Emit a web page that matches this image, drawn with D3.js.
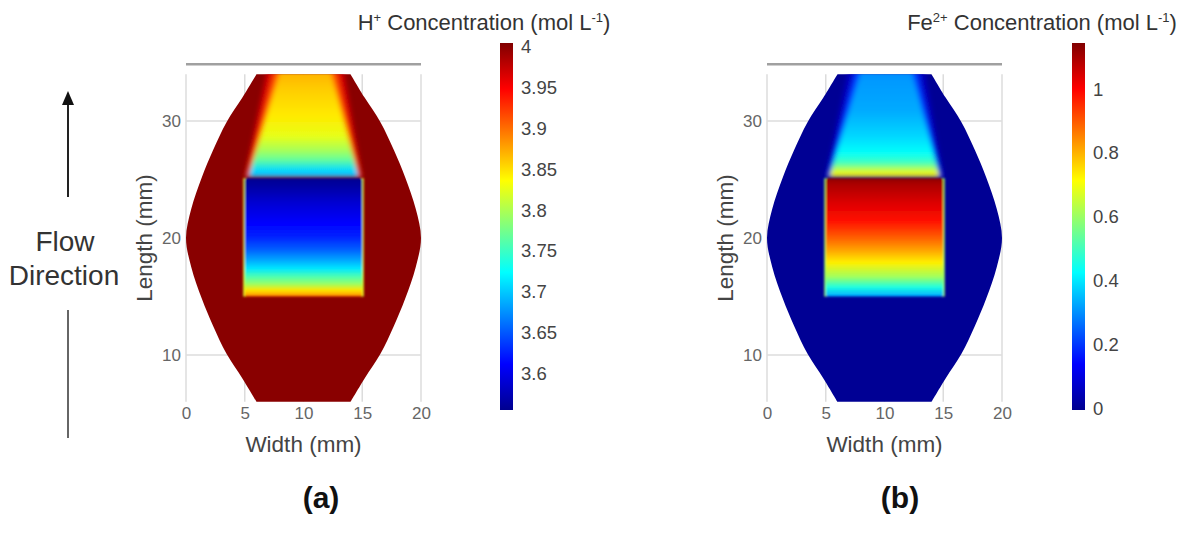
<!DOCTYPE html>
<html>
<head>
<meta charset="utf-8">
<script src="https://cdn.jsdelivr.net/npm/d3@7"></script>
<style>
  body { margin: 0; background: #fff; }
  svg { display: block; font-family: "Liberation Sans", Arial, sans-serif; }
</style>
</head>
<body>
<svg id="chart" width="1193" height="533"></svg>
<script>
// jet colour map
var jetPositions = [0, 0.125, 0.375, 0.625, 0.875, 1];
var jetColors = ['#00008f', '#0000ff', '#00ffff', '#ffff00', '#ff0000', '#800000'];

var widthTicks = [0, 5, 10, 15, 20];
var lengthTicks = [10, 20, 30];

// left half of the flow cell, [width, length] in mm
var cellOutline = [[6, 34], [4.8, 32], [3.45, 29.9], [2.3, 27.5], [1.35, 25.2], [0.45, 22.5], [0, 20],
                   [0.45, 17.5], [1.35, 14.8], [2.3, 12.5], [3.45, 10.1], [4.8, 8], [6, 6]];
var electrode = {x0: 5, x1: 15, y0: 15, y1: 25.1};

// plume above the electrode: width span at bottom and top
var plumeLengths = [25.2, 34.3];
var plumeOuter = [[5.0, 15.0], [6.9, 13.4]];
var plumeMiddle = [[5.1, 14.9], [7.5, 12.8]];
var plumeCore = [[5.3, 14.7], [8.0, 12.3]];

// H+ field, [length, value]
var hBackground = 4.0;
var hPlumeBands = [3.965, 3.915];
var hPlumeProfile = [[34, 3.868], [32.4, 3.856], [30.4, 3.845], [28.7, 3.826], [27.5, 3.798],
                     [26.7, 3.769], [25.8, 3.708], [25.2, 3.69]];
var hRectProfile = [[25.1, 3.557], [24.5, 3.565], [23, 3.59], [21.25, 3.612], [20.1, 3.627], [19, 3.654],
                    [18.1, 3.686], [17.4, 3.713], [16.7, 3.758], [16.1, 3.79], [15.55, 3.847], [15.1, 3.88], [15, 3.92]];
var hEdgeValue = 3.82;
var hColorTicks = [3.6, 3.65, 3.7, 3.75, 3.8, 3.85, 3.9, 3.95, 4];
var hColorDomain = [3.556, 4.004];

// Fe2+ field, [length, value]
var feBackground = 0;
var fePlumeBands = [0.06, 0.2];
var fePlumeProfile = [[34, 0.30], [33.5, 0.31], [30.9, 0.33], [28.7, 0.38], [27.3, 0.43],
                      [26.4, 0.5], [25.7, 0.67], [25.2, 0.75]];
var feRectProfile = [[25.1, 1.13], [24.7, 1.10], [23, 1.04], [21.5, 0.985], [20.1, 0.90], [19, 0.82],
                     [17.9, 0.73], [16.7, 0.61], [15.8, 0.46], [15.1, 0.34], [15, 0.3]];
var feEdgeValue = 0.6;
var feColorTicks = [0, 0.2, 0.4, 0.6, 0.8, 1];
var feColorDomain = [-0.006, 1.145];

var jet = d3.scaleLinear().domain(jetPositions).range(jetColors).interpolate(d3.interpolateRgb);

var svg = d3.select('#chart');
var defs = svg.append('defs');

function blurFilter(id, sd) {
  defs.append('filter').attr('id', id)
      .attr('x', '-20%').attr('y', '-20%').attr('width', '140%').attr('height', '140%')
    .append('feGaussianBlur').attr('stdDeviation', sd);
}
blurFilter('plumeBlur', 2.4);
blurFilter('rectBlur', 0.9);

function addProfileGradient(id, profile, y, color) {
  var top = y(profile[0][0]),
      bottom = y(profile[profile.length - 1][0]);
  var grad = defs.append('linearGradient').attr('id', id)
    .attr('gradientUnits', 'userSpaceOnUse')
    .attr('x1', 0).attr('x2', 0).attr('y1', top).attr('y2', bottom);
  grad.selectAll('stop').data(profile).enter().append('stop')
    .attr('offset', function(d) { return (y(d[0]) - top) / (bottom - top); })
    .attr('stop-color', function(d) { return color(d[1]); });
}

function styleAxis(sel, size, fill) {
  sel.select('.domain').remove();
  sel.attr('font-family', null).attr('font-size', null);
  sel.selectAll('text').attr('font-size', size).attr('fill', fill);
}

function drawPanel(p) {
  var x = d3.scaleLinear().domain([0, 20]).range([p.left, p.left + 235]);
  var y = d3.scaleLinear().domain([10, 30]).range([355, 121]);
  var t = d3.scaleLinear().domain(p.colorDomain).range([0, 1]).clamp(true);
  var color = function(v) { return jet(t(v)); };
  var g = svg.append('g');

  // grid behind the cell
  g.selectAll('.vgrid').data(widthTicks).enter().append('line')
    .attr('x1', x).attr('x2', x).attr('y1', y(6)).attr('y2', y(34))
    .attr('stroke', '#dcdcdc').attr('stroke-width', 1.5);
  g.selectAll('.hgrid').data(lengthTicks).enter().append('line')
    .attr('x1', x(0)).attr('x2', x(20))
    .attr('y1', y).attr('y2', y)
    .attr('stroke', '#dcdcdc').attr('stroke-width', 1.5);
  g.append('line')
    .attr('x1', x(0)).attr('x2', x(20)).attr('y1', y(34.85)).attr('y2', y(34.85))
    .attr('stroke', '#a0a0a0').attr('stroke-width', 2.5);

  // cell outline
  var curve = d3.line().x(function(d) { return x(d[0]); }).y(function(d) { return y(d[1]); })
    .curve(d3.curveCatmullRom);
  var right = cellOutline.slice().reverse().map(function(d) { return [20 - d[0], d[1]]; });
  var outlinePath = curve(cellOutline) + 'L' + curve(right).slice(1) + 'Z';
  defs.append('clipPath').attr('id', p.id + '-clip').append('path').attr('d', outlinePath);
  g.append('path').attr('d', outlinePath).attr('fill', color(p.background));

  var field = g.append('g').attr('clip-path', 'url(#' + p.id + '-clip)');

  // plume
  var poly = d3.line().x(function(d) { return x(d[0]); }).y(function(d) { return y(d[1]); });
  function trapezoid(span) {
    return poly([[span[0][0], plumeLengths[0]], [span[0][1], plumeLengths[0]],
                 [span[1][1], plumeLengths[1]], [span[1][0], plumeLengths[1]]]) + 'Z';
  }
  addProfileGradient(p.id + '-plume', p.plumeProfile, y, color);
  var plume = field.append('g').attr('filter', 'url(#plumeBlur)');
  plume.append('path').attr('d', trapezoid(plumeOuter)).attr('fill', color(p.plumeBands[0]));
  plume.append('path').attr('d', trapezoid(plumeMiddle)).attr('fill', color(p.plumeBands[1]));
  plume.append('path').attr('d', trapezoid(plumeCore)).attr('fill', 'url(#' + p.id + '-plume)');

  // electrode region
  addProfileGradient(p.id + '-rect', p.rectProfile, y, color);
  var rectG = field.append('g').attr('filter', 'url(#rectBlur)');
  rectG.selectAll('.edge').data([electrode.x0, electrode.x1]).enter().append('line')
    .attr('x1', x).attr('x2', x).attr('y1', y(electrode.y1)).attr('y2', y(electrode.y0))
    .attr('stroke', color(p.edgeValue)).attr('stroke-width', 3);
  rectG.append('rect')
    .attr('x', x(electrode.x0)).attr('width', x(electrode.x1) - x(electrode.x0))
    .attr('y', y(electrode.y1)).attr('height', y(electrode.y0) - y(electrode.y1))
    .attr('rx', 2)
    .attr('fill', 'url(#' + p.id + '-rect)');

  // axes
  g.append('g').attr('transform', 'translate(0,403)')
    .call(d3.axisBottom(x).tickValues(widthTicks).tickSize(0).tickPadding(4))
    .call(styleAxis, 17, '#666');
  g.append('g').attr('transform', 'translate(' + (x(0) - 3) + ',0)')
    .call(d3.axisLeft(y).tickValues(lengthTicks).tickSize(0).tickPadding(2))
    .call(styleAxis, 17, '#666');

  g.append('text').attr('x', x(10)).attr('y', 452).attr('text-anchor', 'middle')
    .attr('font-size', 22.5).attr('fill', '#444').text('Width (mm)');
  g.append('text').attr('transform', 'translate(' + (x(0) - 34) + ',' + y(20) + ') rotate(-90)')
    .attr('text-anchor', 'middle').attr('font-size', 22.5).attr('fill', '#444').text('Length (mm)');

  // colour bar
  var cy = d3.scaleLinear().domain(p.colorDomain).range([410, 43]);
  var barGrad = defs.append('linearGradient').attr('id', p.id + '-bar')
    .attr('x1', 0).attr('x2', 0).attr('y1', 1).attr('y2', 0);
  barGrad.selectAll('stop').data(jetPositions).enter().append('stop')
    .attr('offset', function(d) { return d; })
    .attr('stop-color', function(d) { return jet(d); });
  g.append('rect').attr('x', p.barX).attr('width', 13)
    .attr('y', cy(p.colorDomain[1])).attr('height', cy(p.colorDomain[0]) - cy(p.colorDomain[1]))
    .attr('fill', 'url(#' + p.id + '-bar)');
  g.append('g').attr('transform', 'translate(' + (p.barX + 13) + ',0)')
    .call(d3.axisRight(cy).tickValues(p.colorTicks).tickSize(0).tickPadding(8).tickFormat(d3.format('~g')))
    .call(styleAxis, 18.5, '#444');

  var title = g.append('text').attr('x', p.titleX).attr('y', 30).attr('text-anchor', 'middle')
    .attr('font-size', 22).attr('fill', '#333');
  title.append('tspan').text(p.ion);
  title.append('tspan').attr('font-size', 13).attr('dy', -8).text(p.charge);
  title.append('tspan').attr('dy', 8).text(' Concentration (mol L');
  title.append('tspan').attr('font-size', 13).attr('dy', -8).text('-1');
  title.append('tspan').attr('dy', 8).text(')');

  g.append('text').attr('x', p.labelX).attr('y', 508).attr('text-anchor', 'middle')
    .attr('font-size', 30).attr('font-weight', 'bold').attr('fill', '#111').text(p.label);
}

drawPanel({id: 'h', left: 186, barX: 500, titleX: 484, labelX: 321, label: '(a)', ion: 'H', charge: '+',
           background: hBackground, plumeBands: hPlumeBands, plumeProfile: hPlumeProfile,
           rectProfile: hRectProfile, edgeValue: hEdgeValue, colorTicks: hColorTicks, colorDomain: hColorDomain});
drawPanel({id: 'fe', left: 767, barX: 1072, titleX: 1042, labelX: 900, label: '(b)', ion: 'Fe', charge: '2+',
           background: feBackground, plumeBands: fePlumeBands, plumeProfile: fePlumeProfile,
           rectProfile: feRectProfile, edgeValue: feEdgeValue, colorTicks: feColorTicks, colorDomain: feColorDomain});

// flow direction arrow
var arrow = svg.append('g');
arrow.append('line').attr('x1', 68).attr('x2', 68).attr('y1', 197).attr('y2', 102)
  .attr('stroke', '#222').attr('stroke-width', 2);
arrow.append('path').attr('d', 'M68,91L62,105L74,105Z').attr('fill', '#111');
arrow.append('line').attr('x1', 68).attr('x2', 68).attr('y1', 310).attr('y2', 438)
  .attr('stroke', '#666').attr('stroke-width', 2);
arrow.append('text').attr('x', 65).attr('y', 251).attr('text-anchor', 'middle')
  .attr('font-size', 28).attr('fill', '#333').text('Flow');
arrow.append('text').attr('x', 64).attr('y', 285).attr('text-anchor', 'middle')
  .attr('font-size', 28).attr('fill', '#333').text('Direction');
</script>
</body>
</html>
